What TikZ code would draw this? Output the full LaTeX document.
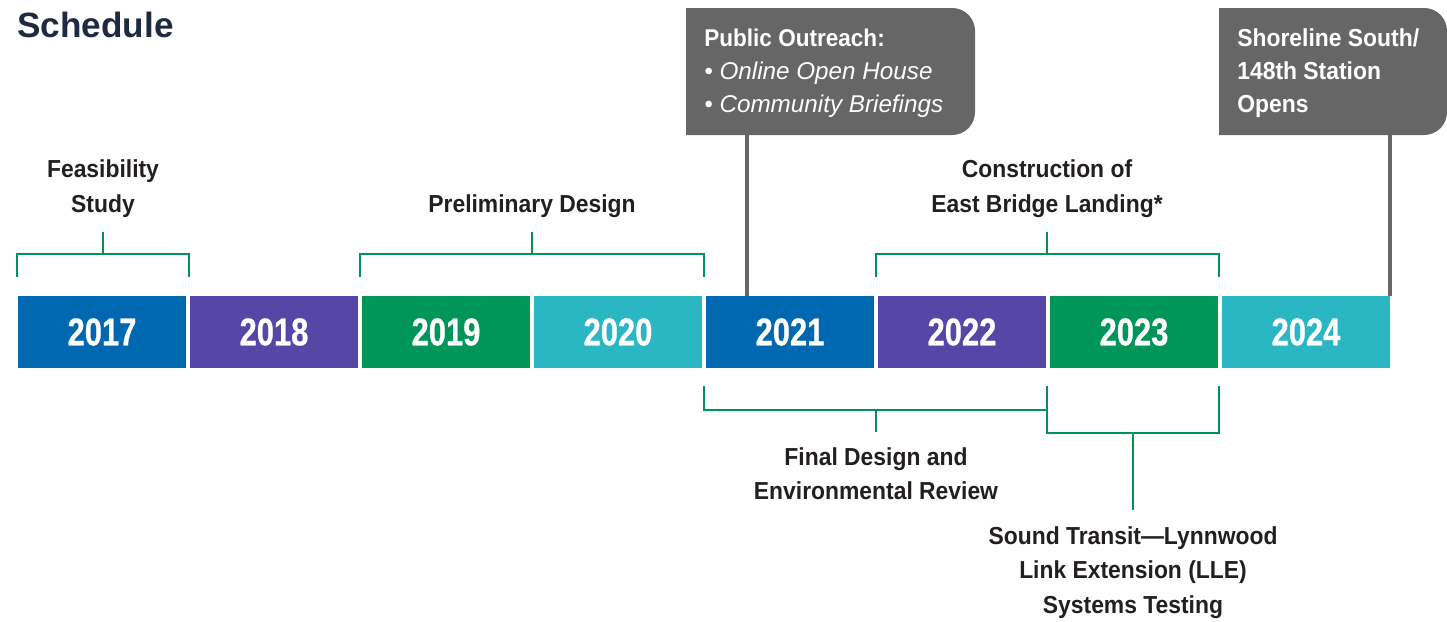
\documentclass[tikz,border=0pt]{standalone}
\usepackage{fontspec}
\setmainfont{Liberation Sans}
\newfontfamily\yearfont[FakeStretch=0.80,FakeBold=0.6]{Liberation Sans}
\newfontfamily\labelfont[FakeStretch=0.93]{Liberation Sans}
\usetikzlibrary{positioning}
\definecolor{yrblue}{HTML}{0067B1}
\definecolor{yrpurple}{HTML}{5646A5}
\definecolor{yrgreen}{HTML}{00965A}
\definecolor{yrteal}{HTML}{2BB6C4}
\definecolor{brgreen}{HTML}{00945A}
\definecolor{calloutgray}{HTML}{666666}
\definecolor{titlenavy}{HTML}{1E2942}
\definecolor{labelblack}{HTML}{231F20}

\begin{document}
\begin{tikzpicture}[x=0.02cm, y=-0.02cm,
  yearbox/.style={minimum width=3.36cm, minimum height=1.44cm, inner sep=0,
    text=white, font=\yearfont\bfseries\fontsize{22}{24}\selectfont},
  phase/.style={inner sep=0, align=center, text=labelblack,
    font=\labelfont\bfseries\fontsize{14}{19.8}\selectfont},
  callouttext/.style={inner sep=0, align=left, text=white,
    font=\labelfont\fontsize{13.8}{18.8}\selectfont},
  bracket/.style={draw=brgreen, line width=1.3pt},
  calloutline/.style={draw=calloutgray, line width=1.8pt}]
\useasboundingbox (0,0) rectangle (1447,622);

% title
\node[anchor=base west, inner sep=0, text=titlenavy,
  font=\bfseries\fontsize{20}{22}\selectfont] (title) at (17,37) {Schedule};

% year boxes
\foreach \yr/\col [count=\i from 0] in {2017/yrblue, 2018/yrpurple, 2019/yrgreen, 2020/yrteal,
    2021/yrblue, 2022/yrpurple, 2023/yrgreen, 2024/yrteal}
  \node[yearbox, fill=\col] (y\yr) at (102+172*\i,332) {\yr};

% phases above the years
\node[phase, anchor=south] (feas) at (103,218) {Feasibility\\Study};
\draw[bracket] (17,277) |- (189,254) -- (189,277);
\draw[bracket] (103,254) -- (103,232);

\node[phase, anchor=south] (prelim) at (532,218) {Preliminary Design};
\draw[bracket] (360,277) |- (704,254) -- (704,277);
\draw[bracket] (532,254) -- (532,232);

\node[phase, anchor=south] (constr) at (1047,218) {Construction of\\East Bridge Landing*};
\draw[bracket] (876,277) |- (1219,254) -- (1219,277);
\draw[bracket] (1047,254) -- (1047,232);

% phases below the years
\node[phase, anchor=north] (finaldes) at (876,447) {Final Design and\\Environmental Review};
\draw[bracket] (704,386) |- (1047,410);
\draw[bracket] (876,410) -- (876,432);

\node[phase, anchor=north] (testing) at (1133,526) {Sound Transit\textemdash Lynnwood\\Link Extension (LLE)\\Systems Testing};
\draw[bracket] (1047,386) |- (1219,433) -- (1219,386);
\draw[bracket] (1133,433) -- (1133,510);

% callouts
\fill[calloutgray] (830,8) [rounded corners=13pt] -- (975,8) -- (975,135) -- (830,135)
  [sharp corners] -- (686,135) -- (686,8) -- cycle;
\node[callouttext, anchor=north west] (outreach) at (704,29)
  {\bfseries Public Outreach:\\\normalfont\itshape\fontsize{13.8}{18.8}\selectfont\textbullet\ Online Open House\\\normalfont\itshape\fontsize{13.8}{18.8}\selectfont\textbullet\ Community Briefings};
\coordinate (outreachfoot) at (747,135);
\draw[calloutline] (outreachfoot) -- (outreachfoot |- y2021.north);

\fill[calloutgray] (1330,8) [rounded corners=13pt] -- (1447,8) -- (1447,135) -- (1330,135)
  [sharp corners] -- (1219,135) -- (1219,8) -- cycle;
\node[callouttext, anchor=north west, font=\labelfont\bfseries\fontsize{14}{18.8}\selectfont]
  (opens) at (1237,28) {Shoreline South/\\148th Station\\Opens};
\coordinate (opensfoot) at (1390,135);
\draw[calloutline] (opensfoot) -- (opensfoot |- y2024.north);
\end{tikzpicture}
\end{document}
